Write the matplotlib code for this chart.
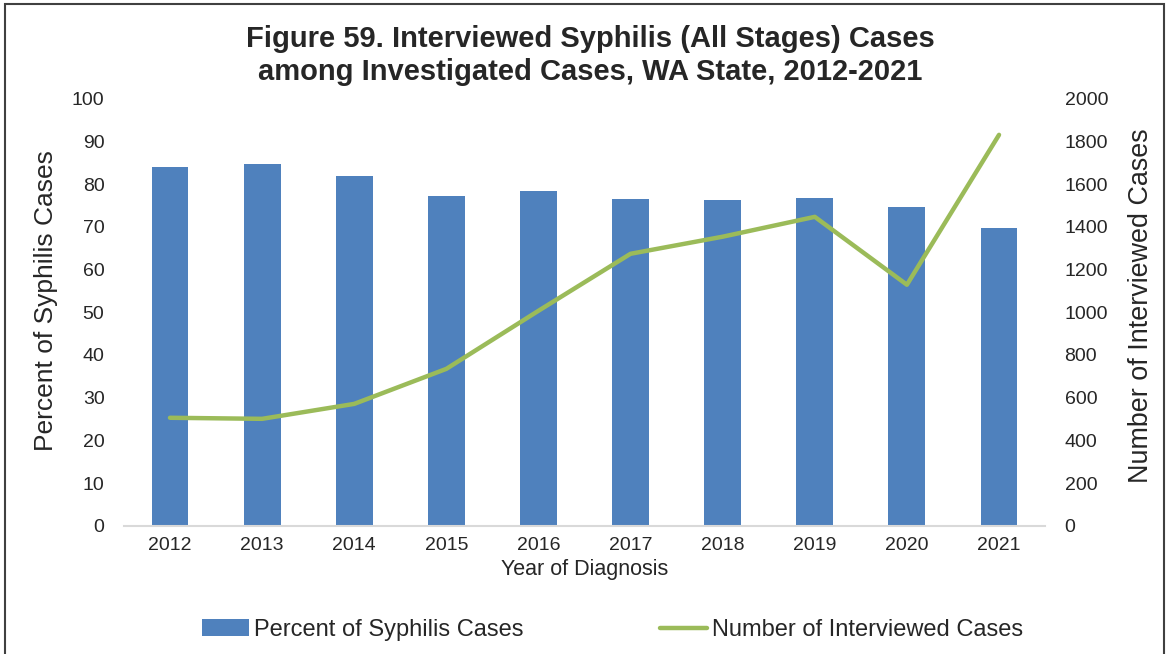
import matplotlib
matplotlib.use('Agg')
import matplotlib.pyplot as plt
from matplotlib.patches import Rectangle

plt.rcParams['font.family'] = ['Liberation Sans', 'DejaVu Sans']

# Syphilis interview data, WA State
years = ['2012', '2013', '2014', '2015', '2016', '2017', '2018', '2019', '2020', '2021']
pct_cases = [84.1, 84.8, 82.0, 77.3, 78.5, 76.6, 76.3, 76.8, 74.7, 69.8]
n_interviewed = [506, 501, 571, 735, 1007, 1274, 1354, 1447, 1129, 1831]

bar_color = '#4F81BD'
line_color = '#9BBB59'
text_color = '#262626'

fig = plt.figure(figsize=(11.69, 6.54), dpi=100)
ax = fig.add_axes([0.106, 0.196, 0.788, 0.653])
ax2 = ax.twinx()

x = list(range(len(years)))
bars = ax.bar(x, pct_cases, width=0.4, color=bar_color, zorder=2,
              label='Percent of Syphilis Cases')
line, = ax2.plot(x, n_interviewed, color=line_color, lw=3.2,
                 solid_capstyle='round', label='Number of Interviewed Cases')

ax.set_xlim(-0.5, len(years) - 0.5)
ax.set_ylim(0, 100)
ax.set_yticks(range(0, 101, 10))
ax2.set_ylim(0, 2000)
ax2.set_yticks(range(0, 2001, 200))
ax.set_xticks(x)
ax.set_xticklabels(years)

for a in (ax, ax2):
    for s in a.spines.values():
        s.set_visible(False)
    a.tick_params(length=0, labelsize=14, colors=text_color)
ax.spines['bottom'].set_visible(True)
ax.spines['bottom'].set_color('#D9D9D9')
ax.spines['bottom'].set_linewidth(1.5)
ax.tick_params(axis='y', pad=14)
ax.tick_params(axis='x', pad=8)
ax2.tick_params(axis='y', pad=14)

ax.set_ylabel('Percent of Syphilis Cases', fontsize=19, color=text_color, labelpad=10)
ax2.set_ylabel('Number of Interviewed Cases', fontsize=19.4, color=text_color, labelpad=14)
ax.yaxis.label.set_y(0.527)
ax2.yaxis.label.set_y(0.515)
ax.set_xlabel('Year of Diagnosis', fontsize=15.5, color=text_color, labelpad=4)

fig.text(0.505, 0.940, 'Figure 59. Interviewed Syphilis (All Stages) Cases',
         ha='center', va='center', fontsize=21, fontweight='bold', color=text_color)
fig.text(0.505, 0.890, 'among Investigated Cases, WA State, 2012-2021',
         ha='center', va='center', fontsize=21, fontweight='bold', color=text_color)

fig.legend(handles=[bars, line], loc='center', bbox_to_anchor=(0.524, 0.037),
           ncol=2, frameon=False, fontsize=17, handlelength=2.0,
           handletextpad=0.2, columnspacing=5.8, labelcolor=text_color)

# outer frame
fig.patches.append(Rectangle((0.004, -0.01), 0.992, 1.004, transform=fig.transFigure,
                             fill=False, edgecolor='#404040', lw=1.5))

fig.savefig('out.png', dpi=100)
